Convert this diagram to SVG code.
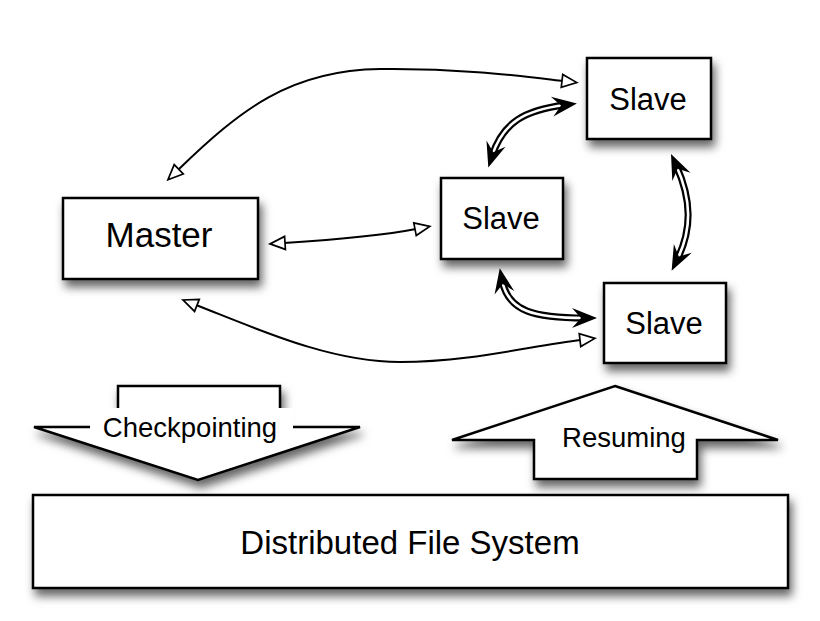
<svg xmlns="http://www.w3.org/2000/svg" width="820" height="621" viewBox="0 0 820 621">
<defs>
<filter id="sh" x="-20%" y="-20%" width="150%" height="170%">
<feDropShadow dx="3" dy="7" stdDeviation="5" flood-color="#000" flood-opacity="0.6"/>
</filter>
<marker id="open" markerUnits="userSpaceOnUse" viewBox="-17 -9 19 18" markerWidth="19" markerHeight="18" refX="-14" refY="0" orient="auto-start-reverse">
<path d="M0,0 L-15,-6.5 L-15,6.5 Z" fill="#fff" stroke="#000" stroke-width="1.7" stroke-linejoin="miter"/>
</marker>
<marker id="bold" markerUnits="userSpaceOnUse" viewBox="-26 -11 28 22" markerWidth="28" markerHeight="22" refX="-12" refY="0" orient="auto-start-reverse">
<path d="M0,0 L-25,-10 L-16,0 L-25,10 Z" fill="#000"/>
</marker>
<style>
.box{fill:#fff;stroke:#000;stroke-width:2.5}
.lbl{font-family:"Liberation Sans",Arial,sans-serif;fill:#000;text-anchor:middle}
.thin{fill:none;stroke:#000;stroke-width:2}
.dblo{fill:none;stroke:#000;stroke-width:7}
.dbli{fill:none;stroke:#fff;stroke-width:2.6}
</style>
</defs>
<rect width="820" height="621" fill="#fff"/>

<g id="master">
<rect class="box" filter="url(#sh)" x="63" y="198" width="195" height="81"/>
<text class="lbl" x="159" y="247" font-size="35">Master</text>
</g>

<g id="slave-top">
<rect class="box" filter="url(#sh)" x="587" y="58" width="124" height="81"/>
<text class="lbl" x="648" y="110" font-size="31">Slave</text>
</g>

<g id="slave-mid">
<rect class="box" filter="url(#sh)" x="441" y="178" width="122" height="81"/>
<text class="lbl" x="501" y="229" font-size="31">Slave</text>
</g>

<g id="slave-bot">
<rect class="box" filter="url(#sh)" x="604" y="283" width="122" height="80"/>
<text class="lbl" x="664" y="334" font-size="31">Slave</text>
</g>

<g id="dfs">
<rect class="box" filter="url(#sh)" x="33" y="495" width="755" height="93"/>
<text class="lbl" x="410" y="554" font-size="33">Distributed File System</text>
</g>

<g id="checkpointing">
<path filter="url(#sh)" class="box" d="M118,386 L280,386 L280,427 L360,427 L198,480 L34,427 L118,427 Z" stroke-linejoin="miter"/>
<rect x="90" y="408" width="203" height="34" fill="#fff"/>
<text class="lbl" x="190" y="437" font-size="27.5">Checkpointing</text>
</g>

<g id="resuming">
<path filter="url(#sh)" class="box" d="M615,386 L778,440 L697,440 L697,479 L534,479 L534,440 L452,440 Z" stroke-linejoin="miter"/>
<text class="lbl" x="624" y="447" font-size="27.5">Resuming</text>
</g>

<g id="connectors">
<path class="thin" marker-start="url(#open)" marker-end="url(#open)" d="M178,170 C240,110 290,70 380,69 C460,68 520,76 563,81"/>
<path class="thin" marker-start="url(#open)" marker-end="url(#open)" d="M284,243 C330,240 380,236 416,229"/>
<path class="thin" marker-start="url(#open)" marker-end="url(#open)" d="M196,305 C260,330 330,362 400,362 C470,362 530,346 581,340"/>

<path class="dblo" d="M492,156 C503,122 525,110 565,105"/>
<path class="dbli" marker-start="url(#bold)" marker-end="url(#bold)" d="M492,156 C503,122 525,110 565,105"/>

<path class="dblo" d="M502,280 C508,312 535,318 585,318"/>
<path class="dbli" marker-start="url(#bold)" marker-end="url(#bold)" d="M502,280 C508,312 535,318 585,318"/>

<path class="dblo" d="M676,165 C692,200 692,230 677,260"/>
<path class="dbli" marker-start="url(#bold)" marker-end="url(#bold)" d="M676,165 C692,200 692,230 677,260"/>
</g>
</svg>
